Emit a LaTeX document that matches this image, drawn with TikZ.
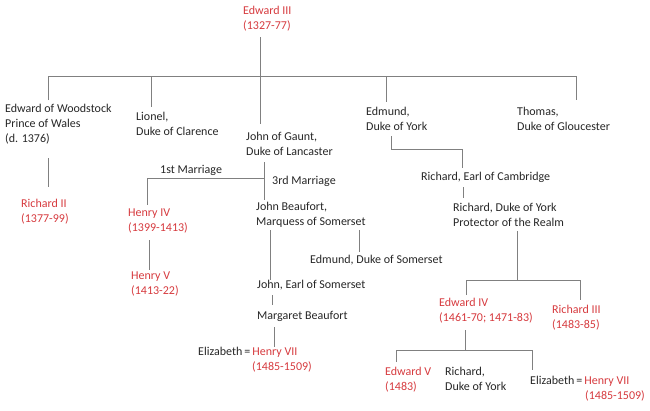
\documentclass[tikz,border=0pt]{standalone}
\usepackage{fontspec}
\setmainfont{Carlito}
\begin{document}
\begin{tikzpicture}[x=1pt,y=-1pt,
  t/.style={anchor=north west,inner sep=0pt,align=left,font=\fontsize{12}{15}\selectfont,text=black!85},
  r/.style={t,text=royal},
  ln/.style={draw=black!50,line width=0.9pt}]
\definecolor{royal}{RGB}{214,58,62}
\useasboundingbox (0,0) rectangle (650,410);
\begin{scope}[yshift=-1pt]
\node[r] (e3) at (243,5) {Edward III\\(1327-77)};
\node[t] (ew) at (5,103) {Edward of Woodstock\\Prince of Wales\\(d. 1376)};
\node[t] (li) at (136,111) {Lionel,\\Duke of Clarence};
\node[t] (jg) at (246,131) {John of Gaunt,\\Duke of Lancaster};
\node[t] (ed) at (366,106) {Edmund,\\Duke of York};
\node[t] (th) at (517,106) {Thomas,\\Duke of Gloucester};
\node[r] (r2) at (21,198) {Richard II\\(1377-99)};
\node[t] (m1) at (160,164) {1st Marriage};
\node[t] (m3) at (272,175) {3rd Marriage};
\node[r] (h4) at (128,208) {Henry IV\\(1399-1413)};
\node[r] (h5) at (131,271) {Henry V\\(1413-22)};
\node[t] (jb) at (256,201) {John Beaufort,\\Marquess of Somerset};
\node[t] (es) at (310,254) {Edmund, Duke of Somerset};
\node[t] (js) at (257,279) {John, Earl of Somerset};
\node[t] (mb) at (257,310) {Margaret Beaufort};
\node[t] (el1) at (198,346) {Elizabeth\,=\,\textcolor{royal}{Henry VII}\\\hspace*{54pt}\textcolor{royal}{(1485-1509)}};
\node[t] (rc) at (421,171) {Richard, Earl of Cambridge};
\node[t] (ry) at (453,202) {Richard, Duke of York\\Protector of the Realm};
\node[r] (e4) at (439,297) {Edward IV\\(1461-70; 1471-83)};
\node[r] (r3) at (552,304) {Richard III\\(1483-85)};
\node[r] (e5) at (385,366) {Edward V\\(1483)};
\node[t] (rdy) at (445,366) {Richard,\\Duke of York};
\node[t] (el2) at (530,375) {Elizabeth\,=\,\textcolor{royal}{Henry VII}\\\hspace*{55pt}\textcolor{royal}{(1485-1509)}};
\end{scope}
% connectors
\draw[ln] (260,37) -- (260,124);
\draw[ln] (48,100) -- (48,76) -- (576,76) -- (576,100);
\draw[ln] (151,76) -- (151,107);
\draw[ln] (386,76) -- (386,102);
\draw[ln] (48,158) -- (48,187);
\draw[ln] (264,162) -- (264,200);
\draw[ln] (264,178) -- (147,178) -- (147,205);
\draw[ln] (149,240) -- (149,270);
\draw[ln] (270,230) -- (270,280);
\draw[ln] (359,230) -- (359,252);
\draw[ln] (272,295) -- (272,305);
\draw[ln] (274,327) -- (274,347);
\draw[ln] (391,136) -- (391,149) -- (462,149) -- (462,168);
\draw[ln] (463,187) -- (463,198);
\draw[ln] (517,231) -- (517,280);
\draw[ln] (466,295) -- (466,280) -- (580,280) -- (580,300);
\draw[ln] (465,330) -- (465,350);
\draw[ln] (396,362) -- (396,350) -- (532,350) -- (532,370);
\end{tikzpicture}
\end{document}
